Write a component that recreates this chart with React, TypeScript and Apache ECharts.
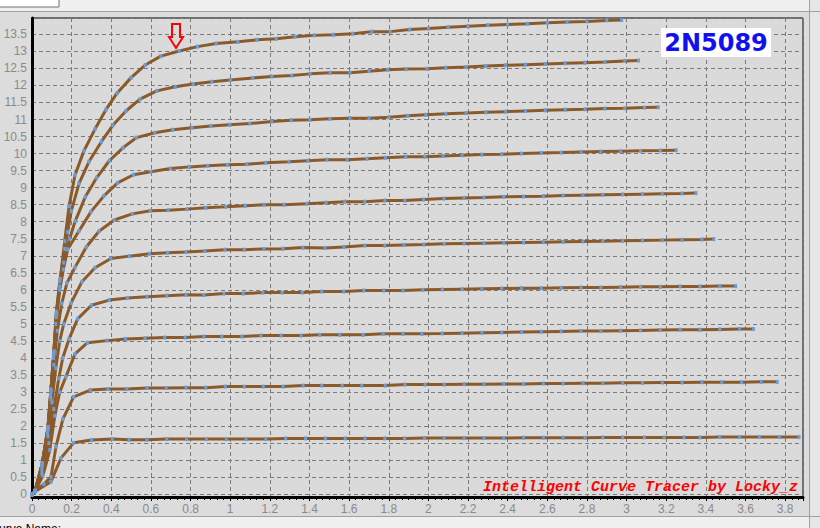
import React, { useEffect, useRef } from "react";
import * as echarts from "echarts";

// Collector current Ic (A) vs collector-emitter voltage Vce (V), one curve per base-current step
const ib1 = [[0,0],[0.015,0.08],[0.096,0.37],[0.146,1.06],[0.21,1.51],[0.30,1.59],[0.405,1.62],[0.49,1.6],[0.58,1.6],[0.68,1.62],[0.78,1.62],[0.88,1.62],[0.98,1.62],[1.08,1.62],[1.18,1.62],[1.28,1.64],[1.38,1.64],[1.48,1.64],[1.58,1.64],[1.68,1.64],[1.78,1.64],[1.88,1.64],[1.98,1.65],[2.08,1.65],[2.18,1.65],[2.28,1.65],[2.38,1.65],[2.48,1.66],[2.58,1.66],[2.68,1.66],[2.79,1.66],[2.88,1.67],[2.98,1.67],[3.09,1.67],[3.19,1.67],[3.29,1.67],[3.37,1.67],[3.47,1.68],[3.57,1.68],[3.67,1.68],[3.77,1.68],[3.87,1.68]];
const ib2 = [[0,0],[0.016,0.09],[0.06,0.3],[0.096,0.51],[0.121,1.4],[0.156,2.21],[0.21,2.86],[0.294,3.06],[0.383,3.09],[0.479,3.09],[0.58,3.12],[0.677,3.12],[0.777,3.13],[0.877,3.13],[0.975,3.16],[1.071,3.16],[1.167,3.16],[1.267,3.16],[1.368,3.19],[1.462,3.19],[1.565,3.19],[1.664,3.19],[1.782,3.19],[1.882,3.22],[1.983,3.22],[2.08,3.22],[2.18,3.23],[2.28,3.23],[2.38,3.24],[2.48,3.24],[2.58,3.25],[2.68,3.25],[2.78,3.26],[2.88,3.26],[2.98,3.27],[3.08,3.27],[3.18,3.28],[3.28,3.28],[3.38,3.29],[3.48,3.29],[3.58,3.29],[3.68,3.3],[3.76,3.3]];
const ib3 = [[0,0],[0.017,0.1],[0.055,0.55],[0.09,1.3],[0.115,2.3],[0.14,3.0],[0.171,3.45],[0.217,4.12],[0.28,4.45],[0.378,4.51],[0.472,4.56],[0.57,4.58],[0.67,4.6],[0.773,4.6],[0.867,4.63],[0.958,4.63],[1.059,4.63],[1.155,4.66],[1.257,4.66],[1.358,4.66],[1.452,4.68],[1.553,4.68],[1.671,4.68],[1.772,4.71],[1.872,4.71],[1.967,4.71],[2.07,4.72],[2.17,4.73],[2.27,4.74],[2.37,4.75],[2.47,4.76],[2.57,4.77],[2.67,4.78],[2.77,4.79],[2.87,4.79],[2.97,4.8],[3.07,4.81],[3.17,4.82],[3.27,4.83],[3.37,4.83],[3.47,4.84],[3.57,4.85],[3.64,4.85]];
const ib4 = [[0,0],[0.017,0.1],[0.05,0.6],[0.085,1.5],[0.11,2.5],[0.135,3.4],[0.155,4.0],[0.187,4.56],[0.23,5.15],[0.3,5.55],[0.39,5.7],[0.482,5.76],[0.58,5.8],[0.68,5.83],[0.777,5.86],[0.867,5.85],[0.968,5.89],[1.066,5.89],[1.165,5.92],[1.262,5.92],[1.363,5.92],[1.462,5.95],[1.573,5.95],[1.674,5.98],[1.775,5.98],[1.872,5.98],[1.972,6.0],[2.07,6.01],[2.17,6.02],[2.27,6.03],[2.37,6.04],[2.47,6.05],[2.57,6.05],[2.67,6.06],[2.77,6.07],[2.87,6.07],[2.97,6.08],[3.07,6.09],[3.17,6.09],[3.27,6.1],[3.37,6.1],[3.47,6.11],[3.55,6.11]];
const ib5 = [[0,0],[0.017,0.1],[0.05,0.7],[0.08,1.7],[0.1,2.7],[0.12,3.7],[0.14,4.5],[0.16,5.0],[0.197,5.61],[0.252,6.24],[0.318,6.65],[0.398,6.92],[0.491,6.99],[0.592,7.06],[0.684,7.09],[0.777,7.11],[0.872,7.14],[0.973,7.18],[1.071,7.18],[1.17,7.2],[1.267,7.21],[1.367,7.24],[1.478,7.23],[1.574,7.26],[1.679,7.3],[1.78,7.3],[1.876,7.32],[1.977,7.33],[2.08,7.35],[2.18,7.36],[2.28,7.37],[2.38,7.38],[2.48,7.39],[2.58,7.4],[2.68,7.41],[2.78,7.42],[2.88,7.43],[2.98,7.44],[3.08,7.45],[3.18,7.46],[3.28,7.47],[3.38,7.48],[3.44,7.49]];
const ib6 = [[0,0],[0.016,0.1],[0.05,0.8],[0.078,1.8],[0.095,2.8],[0.11,3.8],[0.128,4.8],[0.15,5.6],[0.176,6.2],[0.217,6.66],[0.274,7.26],[0.338,7.72],[0.415,8.05],[0.506,8.23],[0.597,8.32],[0.687,8.34],[0.782,8.37],[0.877,8.41],[0.978,8.44],[1.076,8.47],[1.171,8.5],[1.272,8.5],[1.387,8.53],[1.484,8.56],[1.578,8.59],[1.679,8.59],[1.78,8.62],[1.881,8.62],[1.975,8.65],[2.078,8.68],[2.18,8.7],[2.28,8.71],[2.38,8.73],[2.48,8.74],[2.58,8.75],[2.68,8.77],[2.78,8.78],[2.88,8.79],[2.98,8.8],[3.08,8.81],[3.18,8.82],[3.28,8.83],[3.35,8.84]];
const ib7 = [[0,0],[0.016,0.1],[0.05,0.85],[0.08,1.9],[0.094,2.9],[0.108,4.0],[0.12,5.0],[0.14,6.0],[0.158,6.6],[0.18,7.19],[0.237,7.73],[0.297,8.29],[0.363,8.76],[0.432,9.14],[0.512,9.38],[0.6,9.47],[0.698,9.56],[0.793,9.61],[0.886,9.64],[0.986,9.67],[1.084,9.69],[1.18,9.73],[1.296,9.76],[1.392,9.79],[1.488,9.82],[1.59,9.82],[1.69,9.85],[1.783,9.88],[1.886,9.91],[1.982,9.91],[2.074,9.93],[2.17,9.95],[2.27,9.97],[2.37,9.98],[2.47,10.0],[2.57,10.02],[2.67,10.03],[2.77,10.05],[2.87,10.06],[2.97,10.07],[3.07,10.08],[3.17,10.09],[3.25,10.1]];
const ib8 = [[0,0],[0.016,0.1],[0.052,0.9],[0.08,1.95],[0.095,3.0],[0.11,4.1],[0.123,5.2],[0.14,6.1],[0.16,6.8],[0.19,7.5],[0.218,8.02],[0.269,8.73],[0.326,9.29],[0.39,9.79],[0.459,10.17],[0.527,10.47],[0.62,10.61],[0.711,10.7],[0.807,10.76],[0.903,10.81],[0.998,10.85],[1.099,10.88],[1.21,10.94],[1.308,10.98],[1.402,10.99],[1.503,11.02],[1.604,11.04],[1.701,11.04],[1.8,11.07],[1.896,11.11],[1.987,11.14],[2.088,11.17],[2.19,11.19],[2.29,11.21],[2.39,11.23],[2.49,11.25],[2.59,11.27],[2.69,11.29],[2.79,11.3],[2.89,11.32],[2.99,11.33],[3.09,11.35],[3.16,11.36]];
const ib9 = [[0,0],[0.015,0.1],[0.052,0.9],[0.081,1.97],[0.095,3.05],[0.11,4.15],[0.122,5.3],[0.14,6.25],[0.165,7.2],[0.18,7.7],[0.198,8.31],[0.237,9.12],[0.287,9.76],[0.35,10.35],[0.408,10.83],[0.474,11.25],[0.545,11.6],[0.63,11.84],[0.723,11.96],[0.813,12.04],[0.908,12.11],[1.0,12.16],[1.114,12.22],[1.21,12.26],[1.311,12.29],[1.403,12.34],[1.504,12.37],[1.604,12.37],[1.7,12.42],[1.795,12.46],[1.888,12.48],[1.993,12.49],[2.088,12.52],[2.19,12.54],[2.29,12.57],[2.39,12.59],[2.49,12.61],[2.59,12.63],[2.69,12.65],[2.79,12.67],[2.89,12.69],[2.99,12.72],[3.06,12.73]];
const ib10 = [[0,0],[0.015,0.1],[0.052,0.91],[0.082,1.98],[0.096,3.08],[0.112,4.2],[0.124,5.36],[0.143,6.32],[0.165,7.43],[0.187,8.46],[0.217,9.37],[0.262,10.08],[0.318,10.72],[0.373,11.29],[0.43,11.78],[0.5,12.23],[0.571,12.6],[0.65,12.86],[0.743,13.01],[0.835,13.14],[0.929,13.23],[1.039,13.28],[1.135,13.34],[1.232,13.37],[1.328,13.43],[1.424,13.47],[1.52,13.49],[1.619,13.52],[1.714,13.58],[1.807,13.58],[1.906,13.64],[2.0,13.67],[2.1,13.71],[2.2,13.74],[2.3,13.77],[2.4,13.79],[2.5,13.81],[2.6,13.84],[2.7,13.86],[2.8,13.88],[2.9,13.91],[2.975,13.92]];

const curves = [ib1, ib2, ib3, ib4, ib5, ib6, ib7, ib8, ib9, ib10];

const xMin = 0;
const xMax = 3.89;
const xStep = 0.2;
const yMin = -0.08;
const yMax = 13.98;
const yStep = 0.5;

const deviceName = "2N5089";
const creditText = "Intelligent Curve Tracer by Locky_z";
const statusText = "urve Name:";

export default function App() {
  const ref = useRef<HTMLDivElement>(null);

  useEffect(() => {
    if (!ref.current) return;
    const chart = echarts.init(ref.current, undefined, { renderer: "svg" });
    const labelStyle = { color: "#8a8a8a", fontSize: 12, fontFamily: "Liberation Sans, Arial, sans-serif" };
    const split = { show: true, lineStyle: { color: "#7a7a7a", width: 1, type: [4, 3] as any } };

    chart.setOption({
      animation: false,
      backgroundColor: "#dcdcdc",
      grid: {
        left: 32,
        top: 18,
        right: 17,
        bottom: 31,
        show: true,
        backgroundColor: "#dadada",
        borderColor: "#000",
        borderWidth: 1,
      },
      xAxis: {
        type: "value",
        min: xMin,
        max: xMax,
        interval: xStep,
        axisLine: { show: true, onZero: false, lineStyle: { color: "#000", width: 3 } },
        axisTick: { show: true, length: 4, lineStyle: { color: "#000" } },
        minorTick: { show: true, splitNumber: 6, length: 3, lineStyle: { color: "#000" } },
        axisLabel: { ...labelStyle, margin: 6, showMaxLabel: false },
        splitLine: split,
      },
      yAxis: {
        type: "value",
        min: yMin,
        max: yMax,
        splitNumber: 28,
        minInterval: yStep,
        maxInterval: yStep,
        axisLine: { show: true, onZero: false, lineStyle: { color: "#000", width: 3 } },
        axisTick: { show: false },
        axisLabel: { ...labelStyle, margin: 5, showMinLabel: false, showMaxLabel: false },
        splitLine: split,
      },
      series: curves.map((c, i) => ({
        type: "line",
        name: "Ib" + (i + 1),
        data: c,
        symbol: "rect",
        symbolSize: [3, 4],
        showAllSymbol: true,
        lineStyle: { color: "#8b5a2b", width: 3 },
        itemStyle: { color: "#6b9ed6" },
        emphasis: { disabled: true },
        z: 3,
      })),
      graphic: [
        { type: "rect", z: 100, shape: { x: 0, y: 0, width: 820, height: 11 }, style: { fill: "#f0f0f0" } },
        { type: "line", z: 101, shape: { x1: 0, y1: 11.5, x2: 820, y2: 11.5 }, style: { stroke: "#a0a0a0", lineWidth: 1 } },
        { type: "rect", z: 102, shape: { x: -1, y: -1, width: 60, height: 8 }, style: { fill: "#ffffff", stroke: "#707070", lineWidth: 1 } },
        { type: "rect", z: 100, shape: { x: 0, y: 517, width: 820, height: 11 }, style: { fill: "#f0f0f0" } },
        { type: "line", z: 101, shape: { x1: 0, y1: 516.5, x2: 820, y2: 516.5 }, style: { stroke: "#a0a0a0", lineWidth: 1 } },
        { type: "text", z: 102, x: -1, y: 523, style: { text: statusText, fill: "#000", font: "12px Liberation Sans, Arial, sans-serif", textVerticalAlign: "top" } },
        { type: "rect", z: 100, shape: { x: 810, y: 0, width: 10, height: 528 }, style: { fill: "#e6e6e6" } },
        { type: "line", z: 101, shape: { x1: 809.5, y1: 0, x2: 809.5, y2: 528 }, style: { stroke: "#a0a0a0", lineWidth: 1 } },
        { type: "rect", z: 100, shape: { x: 661, y: 28, width: 110, height: 29 }, style: { fill: "#ffffff" } },
        { type: "text", z: 101, x: 716, y: 43, style: { text: deviceName, fill: "#1010f0", font: "bold 24px DejaVu Sans, Verdana, sans-serif", textAlign: "center", textVerticalAlign: "middle" } },
        { type: "text", z: 101, x: 798, y: 487, style: { text: creditText, fill: "#ff0000", font: "italic bold 15px Liberation Mono, Courier New, monospace", textAlign: "right", textVerticalAlign: "middle" } },
        { type: "polygon", z: 101, shape: { points: [[172, 24], [180, 24], [180, 37], [183, 37], [176, 48], [169, 37], [172, 37]] }, style: { fill: "none", stroke: "#ff0000", lineWidth: 2 } },
      ],
    });
    return () => chart.dispose();
  }, []);

  return <div ref={ref} style={{ position: "fixed", left: 0, top: 0, width: 820, height: 528 }} />;
}
